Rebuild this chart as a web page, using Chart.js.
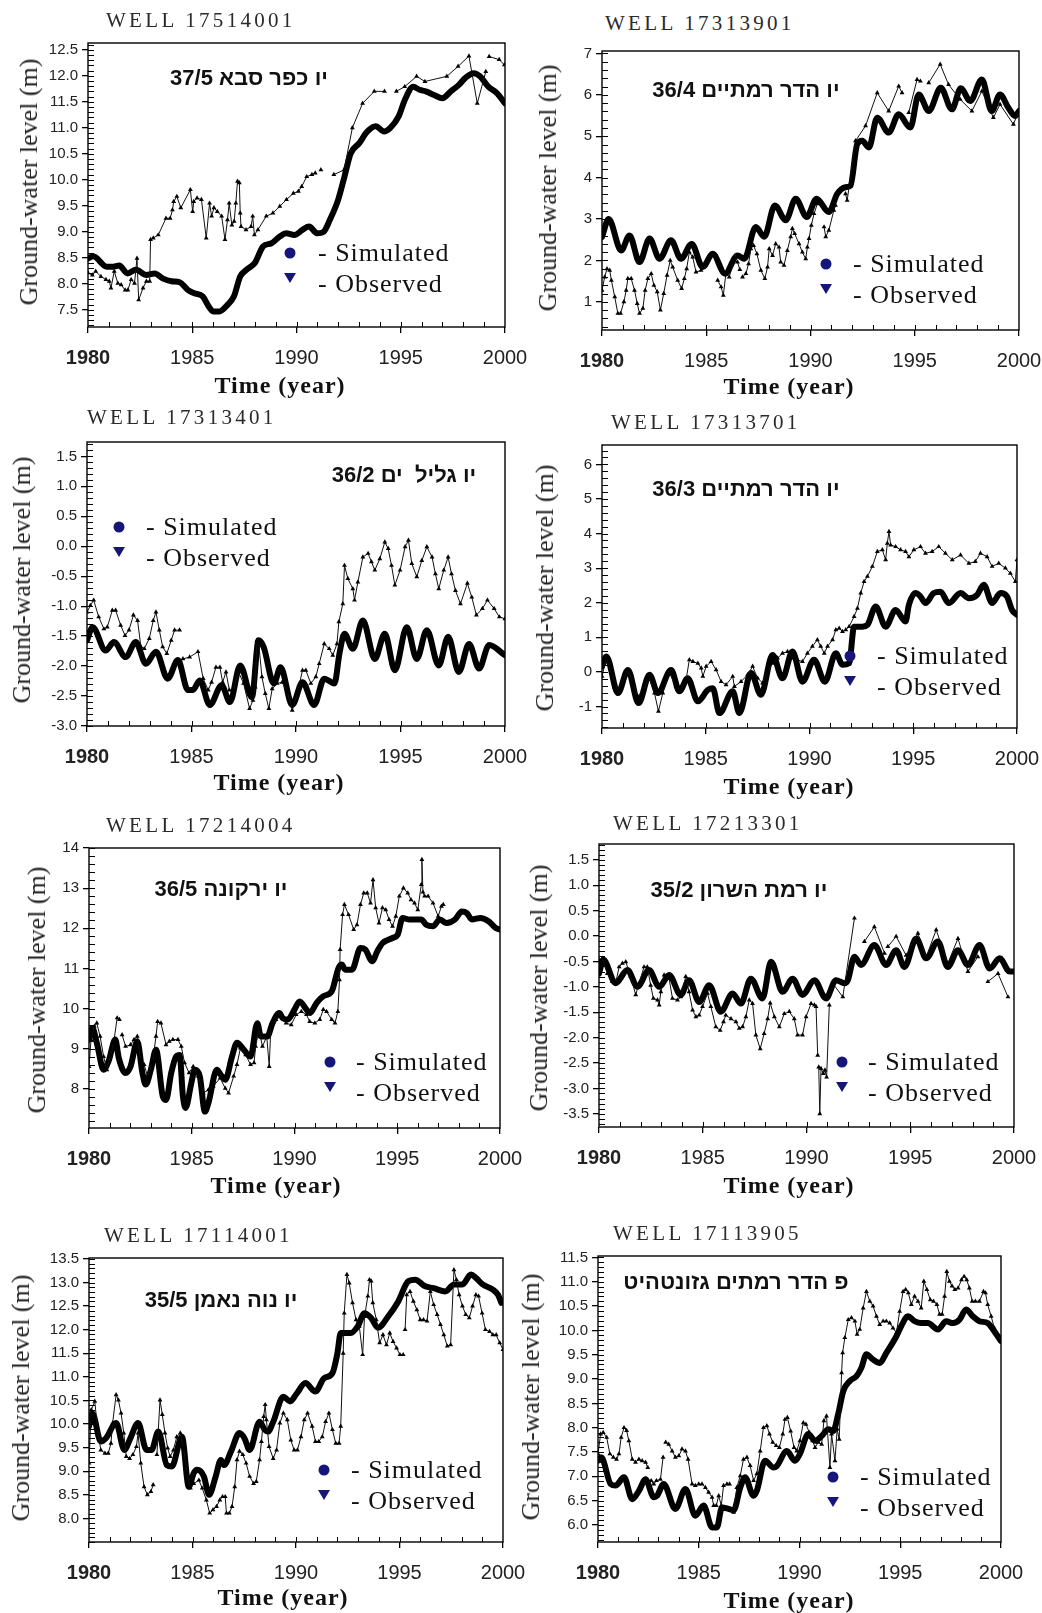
<!DOCTYPE html>
<html>
<head>
<meta charset="utf-8">
<title>Ground-water level: simulated and observed</title>
<script src="https://cdn.jsdelivr.net/npm/chart.js@4.4.1/dist/chart.umd.min.js"></script>
<style>
  body { margin: 0; background: #fff; }
  #page { position: relative; width: 1042px; height: 1613px; overflow: hidden; background: #fff; }
  canvas { position: absolute; }
  .well { position: absolute; font: 21px "Liberation Serif", serif; letter-spacing: 3.3px; color: #2a2a2a; line-height: 1; transform: translateY(-50%); white-space: nowrap; }
  .ytitle { position: absolute; font: 26px "Liberation Serif", serif; color: #222; line-height: 1; white-space: nowrap; transform: translate(-50%, -50%) rotate(-90deg); }
  .xtitle { position: absolute; font: bold 24px "Liberation Serif", serif; letter-spacing: 1px; color: #111; line-height: 1; white-space: nowrap; transform: translate(-50%, -50%); }
  .site { position: absolute; font: bold 22px "Liberation Sans", "DejaVu Sans", sans-serif; color: #111; line-height: 1; white-space: pre; transform: translate(-50%, -50%); }
  .leg { position: absolute; font: 26px "Liberation Serif", serif; letter-spacing: 1px; color: #111; line-height: 1; white-space: nowrap; transform: translateY(-50%); }
  .dot { position: absolute; width: 11px; height: 11px; border-radius: 50%; background: #16167a; transform: translate(-50%, -50%); }
  .tri { position: absolute; width: 12px; height: 10px; background: #16167a; clip-path: polygon(0 0, 100% 0, 50% 100%); transform: translate(-50%, -50%); }
</style>
</head>
<body>
<div id="page"></div>
<script>
// shared time axis
const yearTicks = [1980, 1985, 1990, 1995, 2000];

// ---- WELL 17514001 ----
const well1 = "WELL 17514001";
const site1 = "יו כפר סבא 37/5";
const ticks1 = [7.5, 8.0, 8.5, 9.0, 9.5, 10.0, 10.5, 11.0, 11.5, 12.0, 12.5];
const sim1 = [
  [1980.0,8.49],[1980.25,8.53],[1980.9,8.33],[1981.2,8.33],[1981.5,8.35],[1981.9,8.2],[1982.3,8.27],[1982.8,8.17],
  [1983.2,8.2],[1983.6,8.1],[1984.0,8.05],[1984.4,8.03],[1984.8,7.88],[1985.1,7.82],[1985.5,7.76],[1985.8,7.56],
  [1986.0,7.47],[1986.3,7.47],[1986.7,7.6],[1987.0,7.76],[1987.3,8.14],[1987.6,8.27],[1988.0,8.4],[1988.4,8.72],
  [1988.8,8.78],[1989.2,8.91],[1989.5,8.97],[1989.9,8.94],[1990.3,9.04],[1990.6,9.1],[1991.0,8.97],[1991.3,9.0],
  [1991.6,9.23],[1992.0,9.62],[1992.3,10.06],[1992.6,10.51],[1993.0,10.7],[1993.4,10.93],[1993.8,11.03],[1994.2,10.93],
  [1994.5,11.0],[1994.9,11.22],[1995.2,11.54],[1995.6,11.79],[1995.9,11.73],[1996.2,11.7],[1996.6,11.63],[1997.0,11.57],
  [1997.4,11.7],[1997.8,11.83],[1998.1,11.96],[1998.5,12.05],[1998.8,11.99],[1999.2,11.79],[1999.6,11.67],[2000.0,11.47]
];
const obs1 = [
  [1980.0,8.21],[1980.21,8.17],[1980.37,8.24],[1980.62,8.14],[1980.86,8.08],[1981.02,8.05],[1981.1,7.92],[1981.26,8.24],
  [1981.43,8.01],[1981.59,7.98],[1981.78,7.88],[1981.91,7.88],[1982.07,8.08],[1982.23,8.01],[1982.35,8.49],[1982.43,7.69],
  [1982.64,7.92],[1982.8,8.05],[1982.96,8.05],[1983.0,8.85],[1983.13,8.88],[1983.37,8.94],[1983.74,9.26],[1983.94,9.26],
  [1984.05,9.42],[1984.11,9.58],[1984.26,9.68],[1984.45,9.46],[1984.91,9.81],[1985.02,9.39],[1985.07,9.58],[1985.23,9.65],
  [1985.44,9.62],[1985.67,8.88],[1985.83,9.55],[1985.93,9.3],[1986.04,9.46],[1986.2,9.39],[1986.41,9.3],[1986.57,8.85],
  [1986.69,9.23],[1986.77,9.55],[1986.9,9.13],[1987.01,9.2],[1987.09,9.55],[1987.17,9.97],[1987.26,9.94],[1987.3,9.36],
  [1987.34,9.1],[1987.58,9.04],[1987.82,9.1],[1987.9,9.3],[1987.98,8.94],[1988.15,9.04],[1988.55,9.3],[1988.87,9.36],
  [1989.2,9.49],[1989.52,9.62],[1989.85,9.74],[1990.09,9.78],[1990.25,9.87],[1990.49,10.06],[1990.74,10.1],[1990.9,10.13],
  [1991.0,null],[1991.17,10.19],[1991.4,null],[1991.79,10.1],[1992.28,10.19],[1992.68,11.0],[1993.17,11.47],[1993.73,11.7],
  [1994.22,11.7],[1994.5,null],[1994.79,11.7],[1995.19,11.79],[1995.76,11.99],[1996.16,11.89],[1997.21,11.99],[1997.75,12.18],
  [1998.27,12.38],[1998.67,11.47],[1999.08,12.08],[1999.15,null],[1999.24,12.37],[1999.72,12.31],[1999.97,12.21]
];

// ---- WELL 17313901 ----
const well2 = "WELL 17313901";
const site2 = "יו הדר רמתיים 36/4";
const ticks2 = [1, 2, 3, 4, 5, 6, 7];
const sim2 = [
  [1980.0,2.57],[1980.32,3.0],[1980.92,2.24],[1981.32,2.6],[1981.8,1.96],[1982.28,2.53],[1982.76,2.04],[1983.31,2.49],
  [1983.79,2.04],[1984.3,2.4],[1984.83,1.84],[1985.31,2.16],[1985.9,1.68],[1986.5,2.12],[1986.82,2.04],[1987.38,2.81],
  [1987.78,2.57],[1988.29,3.33],[1988.81,2.97],[1989.29,3.49],[1989.82,3.05],[1990.29,3.49],[1990.88,3.17],[1991.28,3.61],
  [1991.68,3.77],[1991.92,3.81],[1992.24,4.81],[1992.48,4.89],[1992.8,4.73],[1993.2,5.45],[1993.75,5.09],[1994.23,5.53],
  [1994.79,5.21],[1995.19,6.01],[1995.67,5.61],[1996.25,6.17],[1996.78,5.65],[1997.21,6.16],[1997.66,5.85],[1998.22,6.37],
  [1998.69,5.61],[1999.09,6.01],[1999.49,5.69],[1999.81,5.49],[2000.0,5.61]
];
const obs2 = [
  [1980.0,1.28],[1980.13,1.6],[1980.24,1.8],[1980.37,1.76],[1980.45,1.52],[1980.61,1.12],[1980.76,0.72],[1980.89,0.72],
  [1981.05,1.0],[1981.16,1.28],[1981.24,1.56],[1981.4,1.56],[1981.56,1.28],[1981.69,0.96],[1981.8,0.72],[1981.96,0.84],
  [1982.07,1.28],[1982.2,1.56],[1982.36,1.68],[1982.49,1.4],[1982.65,1.24],[1982.8,0.8],[1982.96,1.2],[1983.12,1.64],
  [1983.27,2.0],[1983.39,1.84],[1983.63,1.52],[1983.82,1.32],[1983.95,1.56],[1984.06,1.8],[1984.19,2.2],[1984.35,2.08],
  [1984.51,1.72],[1984.75,1.76],[1985.1,null],[1985.55,1.52],[1985.71,1.36],[1985.82,1.16],[1985.94,1.68],[1986.1,1.6],
  [1986.34,2.0],[1986.5,1.96],[1986.61,1.78],[1986.68,null],[1986.74,1.6],[1986.9,1.68],[1987.03,1.92],[1987.14,2.28],
  [1987.27,2.36],[1987.43,2.16],[1987.62,1.76],[1987.81,1.56],[1987.94,1.84],[1988.02,2.28],[1988.18,2.12],[1988.33,2.4],
  [1988.49,2.32],[1988.57,1.96],[1988.73,1.88],[1988.89,2.24],[1989.05,2.57],[1989.13,2.77],[1989.24,2.65],[1989.45,2.4],
  [1989.61,2.2],[1989.77,2.04],[1989.85,2.32],[1989.93,2.53],[1990.04,2.85],[1990.17,3.13],[1990.33,3.37],[1990.5,null],
  [1990.65,2.81],[1990.73,2.57],[1990.88,2.73],[1991.12,3.21],[1991.2,3.33],[1991.45,null],[1991.68,3.61],[1991.76,3.45],
  [1992.16,4.89],[1992.64,5.25],[1993.2,6.05],[1993.75,5.61],[1994.23,6.21],[1994.39,6.05],[1994.55,null],[1994.71,5.57],
  [1995.11,6.37],[1995.27,6.33],[1995.45,null],[1995.67,6.29],[1996.22,6.74],[1996.62,6.25],[1997.18,5.89],[1997.74,5.61],
  [1998.22,6.09],[1998.77,5.45],[1999.09,5.77],[1999.73,5.29],[2000.0,5.61]
];

// ---- WELL 17313401 ----
const well3 = "WELL 17313401";
const site3 = "יו גליל  ים 36/2";
const ticks3 = [-3.0, -2.5, -2.0, -1.5, -1.0, -0.5, 0.0, 0.5, 1.0, 1.5];
const sim3 = [
  [1980.0,-1.57],[1980.27,-1.35],[1980.89,-1.74],[1981.29,-1.6],[1981.85,-1.85],[1982.33,-1.6],[1982.82,-1.96],[1983.3,-1.76],
  [1983.86,-2.21],[1984.35,-1.9],[1984.83,-2.4],[1985.07,-2.4],[1985.39,-2.24],[1985.88,-2.65],[1986.44,-2.32],[1986.84,-2.6],
  [1987.33,-1.99],[1987.89,-2.52],[1988.21,-1.57],[1988.45,-1.68],[1988.94,-2.29],[1989.26,-2.02],[1989.82,-2.65],[1990.31,-2.27],
  [1990.87,-2.65],[1991.35,-2.21],[1991.84,-2.29],[1992.08,-1.79],[1992.32,-1.46],[1992.72,-1.71],[1993.2,-1.24],[1993.77,-1.88],
  [1994.25,-1.46],[1994.73,-2.07],[1995.3,-1.35],[1995.78,-1.88],[1996.26,-1.4],[1996.83,-1.99],[1997.28,-1.51],[1997.79,-2.1],
  [1998.28,-1.63],[1998.76,-2.04],[1999.24,-1.65],[2000.0,-1.82]
];
const obs3 = [
  [1980.0,-1.1],[1980.16,-0.99],[1980.32,-0.9],[1980.56,-1.18],[1980.81,-1.38],[1980.97,-1.35],[1981.21,-1.07],[1981.37,-1.07],
  [1981.61,-1.32],[1981.82,-1.49],[1982.01,-1.4],[1982.22,-1.15],[1982.42,-1.24],[1982.58,-1.68],[1982.74,-1.71],[1982.98,-1.54],
  [1983.17,-1.24],[1983.3,-1.1],[1983.46,-1.4],[1983.62,-1.68],[1983.82,-1.79],[1984.03,-1.57],[1984.19,-1.4],[1984.43,-1.4],
  [1984.5,null],[1984.59,-1.88],[1984.91,-1.85],[1985.31,-1.76],[1985.56,-2.21],[1985.8,-2.4],[1985.96,-2.27],[1986.17,-2.02],
  [1986.36,-2.02],[1986.49,-2.27],[1986.65,-2.1],[1986.81,-2.4],[1987.0,-2.4],[1987.25,-2.1],[1987.49,-2.29],[1987.78,-2.71],
  [1987.94,-2.57],[1988.05,-2.35],[1988.13,-1.57],[1988.21,-1.6],[1988.37,-2.18],[1988.53,-2.46],[1988.7,-2.71],[1988.86,-2.38],
  [1989.1,-2.29],[1989.34,-2.27],[1989.58,-2.43],[1989.82,-2.74],[1990.06,-2.46],[1990.31,-2.07],[1990.47,-2.07],[1990.71,-2.29],
  [1990.95,-2.18],[1991.11,-1.96],[1991.35,-1.63],[1991.59,-1.71],[1991.76,-1.82],[1991.96,-1.63],[1992.05,-1.26],[1992.24,-0.96],
  [1992.32,-0.32],[1992.48,-0.54],[1992.72,-0.71],[1992.8,-0.9],[1992.96,-0.6],[1993.2,-0.18],[1993.45,-0.12],[1993.61,-0.26],
  [1993.77,-0.4],[1994.01,-0.21],[1994.25,0.07],[1994.41,-0.04],[1994.57,-0.32],[1994.73,-0.65],[1994.98,-0.4],[1995.22,-0.01],
  [1995.38,0.1],[1995.54,-0.29],[1995.78,-0.51],[1996.02,-0.24],[1996.26,-0.01],[1996.51,-0.18],[1996.67,-0.46],[1996.83,-0.71],
  [1997.07,-0.4],[1997.28,-0.18],[1997.44,-0.46],[1997.63,-0.74],[1997.87,-0.96],[1998.2,-0.62],[1998.41,-0.85],[1998.63,-1.15],
  [1998.92,-1.04],[1999.16,-0.9],[1999.48,-1.04],[1999.73,-1.18],[2000.0,-1.21]
];

// ---- WELL 17313701 ----
const well4 = "WELL 17313701";
const site4 = "יו הדר רמתיים 36/3";
const ticks4 = [-1, 0, 1, 2, 3, 4, 5, 6];
const sim4 = [
  [1980.0,0.16],[1980.21,0.45],[1980.77,-0.61],[1981.25,0.06],[1981.76,-0.9],[1982.29,-0.08],[1982.69,-0.61],[1983.33,0.06],
  [1983.73,-0.56],[1984.13,-0.18],[1984.62,-0.85],[1985.1,-0.52],[1985.34,-0.47],[1985.66,-1.19],[1986.3,-0.56],[1986.62,-1.19],
  [1987.18,-0.03],[1987.66,-0.66],[1988.22,0.49],[1988.7,-0.18],[1989.18,0.59],[1989.66,-0.28],[1990.22,0.35],[1990.74,-0.28],
  [1991.27,0.54],[1991.59,0.21],[1991.91,0.25],[1992.15,1.31],[1992.55,1.31],[1992.79,1.36],[1993.19,1.89],[1993.67,1.31],
  [1994.15,1.79],[1994.63,1.46],[1994.79,1.94],[1995.11,2.28],[1995.35,2.18],[1995.59,1.99],[1995.99,2.28],[1996.31,2.32],
  [1996.71,1.99],[1997.28,2.28],[1997.68,2.13],[1998.08,2.23],[1998.4,2.52],[1998.8,1.99],[1999.2,2.28],[1999.52,2.18],
  [1999.76,1.79],[2000.0,1.65]
];
const obs4 = [
  [1980.0,-0.13],[1980.21,0.4],[1980.45,-0.03],[1980.77,-0.52],[1981.01,-0.23],[1981.25,0.06],[1981.49,-0.32],[1981.73,-0.71],
  [1981.97,-0.52],[1982.29,-0.18],[1982.53,-0.61],[1982.72,-1.14],[1982.93,-0.61],[1983.25,-0.03],[1983.57,-0.42],[1983.81,-0.52],
  [1984.05,-0.23],[1984.21,0.35],[1984.38,0.3],[1984.62,0.25],[1984.78,0.11],[1984.86,-0.13],[1985.02,0.16],[1985.26,0.3],
  [1985.5,0.06],[1985.74,-0.28],[1985.98,-0.37],[1986.3,-0.13],[1986.38,-0.42],[1986.7,-0.28],[1987.02,-0.08],[1987.26,0.16],
  [1987.5,-0.18],[1987.74,-0.32],[1987.98,0.01],[1988.22,0.25],[1988.46,0.4],[1988.7,0.54],[1988.94,0.59],[1989.18,0.4],
  [1989.42,0.35],[1989.66,0.3],[1989.9,0.54],[1990.14,0.74],[1990.38,0.93],[1990.54,0.74],[1990.71,0.54],[1990.87,0.74],
  [1991.11,0.93],[1991.27,1.22],[1991.43,1.26],[1991.59,1.17],[1991.75,1.22],[1991.91,1.31],[1992.15,1.6],[1992.31,1.84],
  [1992.47,2.28],[1992.63,2.61],[1992.79,2.76],[1993.03,3.05],[1993.27,3.48],[1993.51,3.53],[1993.67,3.24],[1993.75,3.72],
  [1993.83,4.06],[1993.91,3.67],[1994.15,3.62],[1994.39,3.53],[1994.63,3.48],[1994.79,3.33],[1995.03,3.53],[1995.35,3.62],
  [1995.59,3.43],[1995.91,3.48],[1996.23,3.62],[1996.55,3.43],[1996.88,3.24],[1997.28,3.38],[1997.68,3.14],[1997.99,3.19],
  [1998.24,3.43],[1998.56,3.33],[1998.8,3.05],[1999.12,3.14],[1999.44,3.0],[1999.68,2.85],[1999.92,2.61],[2000.0,3.24]
];

// ---- WELL 17214004 ----
const well5 = "WELL 17214004";
const site5 = "יו ירקונה 36/5";
const ticks5 = [8, 9, 10, 11, 12, 13, 14];
const sim5 = [
  [1980.0,9.23],[1980.16,9.52],[1980.38,9.15],[1980.71,8.48],[1980.95,8.69],[1981.28,9.23],[1981.45,8.77],[1981.78,8.4],
  [1982.02,8.56],[1982.35,9.19],[1982.6,8.4],[1982.76,8.11],[1983.01,8.48],[1983.26,8.98],[1983.59,7.82],[1983.75,7.73],
  [1984.0,8.4],[1984.24,8.81],[1984.41,8.85],[1984.57,7.82],[1984.7,7.53],[1984.98,8.15],[1985.15,8.48],[1985.39,8.32],
  [1985.64,7.44],[1985.81,7.65],[1986.22,8.48],[1986.46,8.32],[1986.63,8.23],[1986.96,8.81],[1987.2,9.15],[1987.53,8.98],
  [1987.86,8.81],[1988.19,9.64],[1988.36,9.31],[1988.68,9.31],[1988.93,9.64],[1989.26,9.89],[1989.42,9.77],[1989.67,9.73],
  [1990.0,9.98],[1990.25,10.18],[1990.58,9.98],[1990.74,9.89],[1991.07,10.14],[1991.4,10.31],[1991.81,10.43],[1992.14,11.01],
  [1992.3,11.1],[1992.47,10.97],[1992.8,10.97],[1993.21,11.51],[1993.45,11.47],[1993.78,11.18],[1994.03,11.43],[1994.28,11.63],
  [1994.77,11.76],[1995.02,11.84],[1995.26,12.26],[1995.59,12.22],[1996.17,12.22],[1996.41,12.09],[1996.74,12.05],[1997.07,12.22],
  [1997.4,12.13],[1997.81,12.22],[1998.14,12.42],[1998.39,12.38],[1998.63,12.22],[1999.05,12.26],[1999.46,12.17],[1999.79,12.01],
  [2000.0,11.97]
];
const obs5 = [
  [1980.0,8.56],[1980.1,9.23],[1980.26,9.56],[1980.38,9.64],[1980.54,9.31],[1980.71,8.81],[1980.87,8.48],[1981.04,8.81],
  [1981.2,9.15],[1981.37,9.77],[1981.48,9.73],[1981.55,null],[1981.61,9.35],[1981.78,9.06],[1982.02,9.1],[1982.19,9.23],
  [1982.35,9.31],[1982.52,8.69],[1982.68,8.61],[1982.85,8.32],[1983.09,8.65],[1983.26,9.31],[1983.34,9.68],[1983.5,9.64],
  [1983.75,9.1],[1983.91,9.19],[1984.08,9.23],[1984.33,9.23],[1984.49,9.06],[1984.65,8.65],[1984.87,8.4],[1985.07,8.56],
  [1985.31,8.32],[1985.56,7.9],[1985.81,7.98],[1986.05,8.07],[1986.38,8.27],[1986.63,8.02],[1986.79,7.9],[1987.04,8.32],
  [1987.2,8.61],[1987.37,9.02],[1987.62,8.85],[1987.86,8.61],[1988.03,8.65],[1988.11,9.06],[1988.27,9.48],[1988.44,9.06],
  [1988.65,9.31],[1988.77,8.56],[1988.85,9.56],[1989.1,9.73],[1989.34,9.81],[1989.59,9.64],[1989.84,9.6],[1990.08,9.85],
  [1990.33,9.93],[1990.58,9.85],[1990.74,9.68],[1990.99,9.64],[1991.23,9.73],[1991.4,9.98],[1991.56,9.93],[1991.81,9.73],
  [1991.97,9.64],[1992.11,9.93],[1992.19,10.72],[1992.22,11.47],[1992.34,12.34],[1992.43,12.59],[1992.63,12.34],[1992.88,11.97],
  [1993.04,12.09],[1993.21,12.59],[1993.37,12.88],[1993.54,12.88],[1993.7,12.63],[1993.82,13.21],[1993.95,12.51],[1994.11,12.13],
  [1994.28,12.51],[1994.44,12.46],[1994.6,12.22],[1994.77,12.05],[1994.93,12.3],[1995.1,12.8],[1995.3,13.0],[1995.51,12.88],
  [1995.67,12.71],[1995.84,12.63],[1996.0,12.46],[1996.17,13.09],[1996.2,13.71],[1996.25,12.9],[1996.33,12.8],[1996.5,12.8],
  [1996.74,12.63],[1996.99,12.3],[1997.15,12.55],[1997.24,12.59]
];

// ---- WELL 17213301 ----
const well6 = "WELL 17213301";
const site6 = "יו רמת השרון 35/2";
const ticks6 = [-3.5, -3.0, -2.5, -2.0, -1.5, -1.0, -0.5, 0.0, 0.5, 1.0, 1.5];
const sim6 = [
  [1980.0,-0.74],[1980.21,-0.47],[1980.8,-0.93],[1981.37,-0.67],[1981.85,-1.0],[1982.41,-0.67],[1982.9,-1.0],[1983.38,-0.77],
  [1983.94,-1.16],[1984.34,-0.87],[1984.83,-1.3],[1985.31,-0.97],[1985.87,-1.49],[1986.44,-1.13],[1986.84,-1.33],[1987.32,-0.84],
  [1987.88,-1.23],[1988.29,-0.51],[1988.85,-1.1],[1989.33,-0.84],[1989.81,-1.16],[1990.38,-0.87],[1990.94,-1.23],[1991.42,-0.87],
  [1991.83,-0.93],[1991.99,-0.87],[1992.31,-0.41],[1992.63,-0.57],[1993.27,-0.18],[1993.84,-0.57],[1994.32,-0.28],[1994.72,-0.61],
  [1995.29,-0.05],[1995.77,-0.44],[1996.33,-0.11],[1996.81,-0.61],[1997.3,-0.28],[1997.78,-0.57],[1998.34,-0.18],[1998.83,-0.64],
  [1999.31,-0.44],[1999.79,-0.7],[2000.0,-0.7]
];
const obs6 = [
  [1980.0,-0.47],[1980.16,-0.44],[1980.4,-0.74],[1980.64,-0.9],[1980.8,-0.93],[1980.97,-0.61],[1981.13,-0.54],[1981.29,-0.51],
  [1981.53,-0.8],[1981.77,-1.16],[1981.93,-0.93],[1982.17,-0.61],[1982.33,-0.61],[1982.49,-0.97],[1982.62,-1.23],[1982.82,-1.26],
  [1982.9,-1.36],[1982.98,-1.1],[1983.14,-0.77],[1983.38,-0.84],[1983.54,-1.23],[1983.78,-1.26],[1983.94,-1.2],[1984.18,-0.8],
  [1984.34,-1.1],[1984.51,-1.46],[1984.67,-1.59],[1984.83,-1.56],[1984.99,-1.39],[1985.23,-1.13],[1985.39,-1.39],[1985.63,-1.79],
  [1985.84,-1.86],[1986.0,-1.69],[1986.11,-1.56],[1986.36,-1.63],[1986.6,-1.69],[1986.76,-1.82],[1986.92,-1.79],[1987.08,-1.59],
  [1987.24,-1.26],[1987.4,-1.33],[1987.56,-1.95],[1987.77,-2.22],[1987.96,-1.92],[1988.13,-1.63],[1988.25,-1.32],[1988.45,-1.59],
  [1988.69,-1.79],[1988.93,-1.53],[1989.17,-1.49],[1989.41,-1.63],[1989.57,-1.95],[1989.81,-1.95],[1989.98,-1.59],[1990.22,-1.33],
  [1990.38,-1.36],[1990.46,-1.39],[1990.54,-2.35],[1990.57,null],[1990.59,-2.58],[1990.64,-3.5],[1990.7,-2.61],[1990.81,-2.71],
  [1990.89,-2.64],[1990.97,-2.78],[1991.1,-1.36],[1991.18,null],[1991.26,-0.93],[1991.75,-1.2],[1992.31,0.35],[1992.55,null],
  [1992.79,-0.11],[1993.27,0.18],[1993.76,-0.34],[1993.84,null],[1993.92,-0.21],[1994.32,-0.01],[1994.8,-0.38],[1995.37,0.05],
  [1995.77,-0.41],[1996.25,0.12],[1996.81,-0.54],[1997.3,-0.05],[1997.78,-0.7],[1998.26,-0.41],[1998.5,null],[1998.74,-0.9],
  [1999.23,-0.74],[1999.71,-1.2]
];

// ---- WELL 17114001 ----
const well7 = "WELL 17114001";
const site7 = "יו נוה נאמן 35/5";
const ticks7 = [8.0, 8.5, 9.0, 9.5, 10.0, 10.5, 11.0, 11.5, 12.0, 12.5, 13.0, 13.5];
const sim7 = [
  [1980.0,9.95],[1980.16,10.23],[1980.57,9.63],[1980.82,9.7],[1981.31,10.02],[1981.71,9.45],[1981.96,9.66],[1982.37,10.02],
  [1982.78,9.45],[1983.02,9.45],[1983.35,9.84],[1983.76,9.13],[1984.0,9.1],[1984.49,9.73],[1984.82,8.67],[1985.06,8.96],
  [1985.22,9.03],[1985.55,8.89],[1985.8,8.5],[1986.12,8.89],[1986.37,9.24],[1986.53,9.13],[1986.86,9.42],[1987.27,9.81],
  [1987.51,9.7],[1987.76,9.45],[1988.24,10.05],[1988.49,9.88],[1988.65,9.84],[1988.9,10.05],[1989.39,10.58],[1989.71,10.48],
  [1990.04,10.65],[1990.45,10.87],[1990.94,10.69],[1991.35,10.97],[1991.76,11.08],[1992.0,11.5],[1992.16,11.93],[1992.65,11.93],
  [1992.98,12.07],[1993.31,12.35],[1993.63,12.25],[1993.96,12.04],[1994.45,12.28],[1994.94,12.6],[1995.43,13.03],[1995.76,13.06],
  [1996.24,12.92],[1996.65,12.88],[1997.22,12.81],[1997.63,12.96],[1998.04,12.96],[1998.45,13.17],[1998.69,13.1],[1999.02,12.96],
  [1999.51,12.85],[1999.76,12.74],[1999.92,12.57]
];
const obs7 = [
  [1980.0,9.17],[1980.11,10.3],[1980.28,10.48],[1980.41,9.91],[1980.57,9.45],[1980.77,9.38],[1980.93,9.38],[1981.06,9.59],
  [1981.14,10.02],[1981.31,10.62],[1981.42,10.51],[1981.55,10.23],[1981.68,9.81],[1981.8,9.31],[1981.96,9.27],[1982.12,9.35],
  [1982.29,9.52],[1982.37,9.81],[1982.5,9.17],[1982.66,8.67],[1982.82,8.5],[1982.99,8.57],[1983.1,8.71],[1983.19,null],
  [1983.28,9.35],[1983.43,10.51],[1983.54,10.2],[1983.67,9.81],[1983.8,9.49],[1983.92,9.31],[1984.08,9.45],[1984.24,9.73],
  [1984.41,9.81],[1984.57,9.49],[1984.73,8.96],[1984.9,8.64],[1985.06,8.74],[1985.31,8.81],[1985.47,8.64],[1985.67,8.39],
  [1985.83,8.11],[1985.99,8.18],[1986.16,8.25],[1986.32,8.39],[1986.45,8.46],[1986.58,8.46],[1986.64,8.11],[1986.78,8.11],
  [1986.91,8.25],[1987.04,8.67],[1987.15,9.24],[1987.27,9.42],[1987.43,9.35],[1987.59,9.17],[1987.76,8.89],[1987.95,8.74],
  [1988.08,8.78],[1988.24,9.24],[1988.33,9.63],[1988.44,10.16],[1988.51,10.41],[1988.57,10.09],[1988.7,9.52],[1988.9,9.27],
  [1989.06,9.45],[1989.22,10.02],[1989.39,10.23],[1989.58,10.09],[1989.75,9.66],[1989.91,9.45],[1990.07,9.45],[1990.24,9.73],
  [1990.4,10.09],[1990.56,10.23],[1990.78,9.95],[1990.94,9.63],[1991.1,9.63],[1991.27,9.73],[1991.43,10.05],[1991.59,10.23],
  [1991.76,9.88],[1991.92,9.59],[1992.08,9.59],[1992.16,9.95],[1992.28,11.5],[1992.33,12.35],[1992.46,13.17],[1992.57,12.99],
  [1992.73,12.57],[1992.9,12.21],[1993.06,12.07],[1993.22,11.47],[1993.31,12.28],[1993.47,12.71],[1993.55,13.06],[1993.63,13.03],
  [1993.71,12.57],[1993.88,12.21],[1994.04,11.72],[1994.2,11.89],[1994.37,11.68],[1994.53,11.93],[1994.69,11.75],[1994.86,11.61],
  [1995.02,11.47],[1995.18,11.47],[1995.22,null],[1995.27,12.0],[1995.35,12.74],[1995.51,12.81],[1995.67,12.6],[1995.84,12.42],
  [1996.0,12.21],[1996.16,12.21],[1996.33,12.18],[1996.49,12.81],[1996.65,12.53],[1996.82,12.32],[1996.98,12.11],[1997.14,11.89],
  [1997.31,11.65],[1997.47,11.68],[1997.63,13.27],[1997.75,13.06],[1997.88,12.74],[1998.04,12.5],[1998.2,12.32],[1998.37,12.25],
  [1998.53,12.5],[1998.69,12.74],[1998.82,12.71],[1998.99,12.35],[1999.15,12.0],[1999.35,11.96],[1999.51,11.89],[1999.67,11.89],
  [1999.84,11.72],[2000.0,11.58]
];

// ---- WELL 17113905 ----
const well8 = "WELL 17113905";
const site8 = "פ הדר רמתים גזונטהיט";
const ticks8 = [6.0, 6.5, 7.0, 7.5, 8.0, 8.5, 9.0, 9.5, 10.0, 10.5, 11.0, 11.5];
const sim8 = [
  [1980.0,7.32],[1980.16,7.39],[1980.63,6.84],[1980.87,6.81],[1981.29,6.98],[1981.7,6.53],[1982.03,6.7],[1982.36,6.94],
  [1982.77,6.57],[1982.93,6.6],[1983.26,6.84],[1983.84,6.33],[1984.34,6.74],[1984.83,6.19],[1985.24,6.4],[1985.66,5.95],
  [1985.9,5.95],[1986.15,6.36],[1986.48,6.33],[1986.73,6.3],[1987.06,6.77],[1987.3,6.98],[1987.72,6.6],[1987.88,6.7],
  [1988.29,7.32],[1988.71,7.18],[1988.87,7.21],[1989.37,7.52],[1989.78,7.32],[1990.02,7.46],[1990.44,7.87],[1990.77,7.73],
  [1991.1,7.83],[1991.43,7.97],[1991.67,7.93],[1991.92,8.28],[1992.17,8.75],[1992.5,8.96],[1992.83,9.06],[1993.07,9.23],
  [1993.32,9.51],[1993.65,9.4],[1993.98,9.33],[1994.31,9.54],[1994.81,9.88],[1995.05,10.09],[1995.38,10.29],[1995.71,10.19],
  [1996.04,10.15],[1996.37,10.15],[1996.87,10.02],[1997.28,10.19],[1997.61,10.15],[1997.94,10.22],[1998.27,10.43],[1998.6,10.29],
  [1998.93,10.19],[1999.34,10.15],[1999.67,9.98],[2000.0,9.78]
];
const obs8 = [
  [1980.0,7.46],[1980.13,7.87],[1980.26,7.9],[1980.43,7.8],[1980.59,7.46],[1980.76,7.39],[1980.92,7.35],[1981.04,7.46],
  [1981.15,7.8],[1981.29,8.0],[1981.42,7.94],[1981.53,7.73],[1981.7,7.35],[1981.86,7.29],[1982.03,7.35],[1982.19,7.32],
  [1982.36,7.29],[1982.47,7.18],[1982.55,null],[1982.64,6.91],[1982.77,6.84],[1982.9,6.91],[1983.1,6.94],[1983.23,7.39],
  [1983.3,null],[1983.36,7.7],[1983.51,7.66],[1983.68,7.52],[1983.84,7.39],[1984.01,7.42],[1984.17,7.56],[1984.34,7.52],
  [1984.47,7.35],[1984.67,6.84],[1984.83,6.81],[1985.0,6.84],[1985.16,6.84],[1985.33,6.77],[1985.49,6.67],[1985.66,6.57],
  [1985.74,6.4],[1985.87,6.4],[1985.99,6.6],[1986.12,6.4],[1986.23,6.81],[1986.4,6.84],[1986.53,6.84],[1986.63,null],
  [1986.73,6.26],[1986.89,6.77],[1987.06,7.01],[1987.22,7.35],[1987.39,7.39],[1987.55,7.22],[1987.72,6.91],[1987.88,7.05],
  [1988.05,7.52],[1988.21,8.0],[1988.38,8.04],[1988.51,7.87],[1988.67,7.7],[1988.84,7.63],[1989.0,7.59],[1989.17,7.87],
  [1989.28,8.17],[1989.4,8.21],[1989.56,7.93],[1989.73,7.59],[1989.86,7.52],[1990.02,7.73],[1990.19,8.1],[1990.32,8.07],
  [1990.49,7.9],[1990.65,7.73],[1990.77,7.59],[1990.93,7.7],[1991.1,7.66],[1991.21,8.14],[1991.34,8.24],[1991.51,7.18],
  [1991.59,7.87],[1991.76,7.32],[1991.87,7.97],[1991.97,7.76],[1992.09,9.13],[1992.14,9.54],[1992.25,9.85],[1992.42,10.22],
  [1992.58,10.26],[1992.75,10.19],[1992.86,9.92],[1992.99,10.02],[1993.16,10.46],[1993.32,10.8],[1993.49,10.6],[1993.65,10.5],
  [1993.82,10.29],[1993.98,10.12],[1994.15,10.19],[1994.31,10.19],[1994.48,10.15],[1994.64,10.05],[1994.81,9.95],[1994.97,10.39],
  [1995.14,10.8],[1995.27,10.84],[1995.4,10.77],[1995.55,10.53],[1995.71,10.7],[1995.88,10.6],[1996.04,10.46],[1996.17,11.01],
  [1996.32,10.84],[1996.49,10.63],[1996.65,10.6],[1996.82,10.53],[1996.95,10.33],[1997.08,10.33],[1997.2,10.7],[1997.31,11.21],
  [1997.44,11.01],[1997.57,10.91],[1997.71,10.84],[1997.87,10.87],[1998.04,11.04],[1998.17,11.11],[1998.3,11.04],[1998.43,10.87],
  [1998.57,10.6],[1998.73,10.6],[1998.93,10.6],[1999.13,10.8],[1999.23,10.77],[1999.34,10.53],[1999.51,10.29],[1999.67,10.05],
  [1999.84,9.88],[2000.0,9.78]
];

// page positions of each panel: plot box [left, top, right, bottom], axis range, label anchors
const panels = [
  {well: well1, site: site1, ticks: ticks1, sim: sim1, obs: obs1, box: [88, 43, 505, 327], range: [7.17, 12.63], dec: 1, minor: 0.1,
   wellAt: [106, 20], siteAt: [249, 78], yTitleAt: [29, 182], xTitleAt: [280, 385], legAt: [290, 253, 318]},
  {well: well2, site: site2, ticks: ticks2, sim: sim2, obs: obs2, box: [602, 51, 1019, 330], range: [0.32, 7.06], dec: 0, minor: 0.2,
   wellAt: [605, 23], siteAt: [746, 90], yTitleAt: [548, 188], xTitleAt: [789, 386], legAt: [826, 264, 853]},
  {well: well3, site: site3, ticks: ticks3, sim: sim3, obs: obs3, box: [87, 442, 505, 726], range: [-3.0, 1.74], dec: 1, minor: 0.1,
   wellAt: [87, 417], siteAt: [404, 475], yTitleAt: [22, 580], xTitleAt: [279, 782], legAt: [119, 527, 146]},
  {well: well4, site: site4, ticks: ticks4, sim: sim4, obs: obs4, box: [602, 445, 1017, 728], range: [-1.62, 6.56], dec: 0, minor: 0.2,
   wellAt: [611, 422], siteAt: [746, 489], yTitleAt: [545, 588], xTitleAt: [789, 786], legAt: [850, 656, 877]},
  {well: well5, site: site5, ticks: ticks5, sim: sim5, obs: obs5, box: [89, 848, 500, 1128], range: [7.03, 14.0], dec: 0, minor: 0.2,
   wellAt: [106, 825], siteAt: [221, 889], yTitleAt: [37, 990], xTitleAt: [276, 1185], legAt: [330, 1062, 356]},
  {well: well6, site: site6, ticks: ticks6, sim: sim6, obs: obs6, box: [599, 844, 1014, 1127], range: [-3.76, 1.81], dec: 1, minor: 0.1,
   wellAt: [613, 823], siteAt: [739, 890], yTitleAt: [539, 988], xTitleAt: [789, 1185], legAt: [842, 1062, 868]},
  {well: well7, site: site7, ticks: ticks7, sim: sim7, obs: obs7, box: [89, 1258, 503, 1542], range: [7.5, 13.52], dec: 1, minor: 0.1,
   wellAt: [104, 1235], siteAt: [221, 1300], yTitleAt: [21, 1398], xTitleAt: [283, 1597], legAt: [324, 1470, 351]},
  {well: well8, site: site8, ticks: ticks8, sim: sim8, obs: obs8, box: [598, 1256, 1001, 1542], range: [5.65, 11.53], dec: 1, minor: 0.1,
   wellAt: [613, 1233], siteAt: [736, 1282], yTitleAt: [531, 1397], xTitleAt: [789, 1600], legAt: [833, 1477, 860]}
];

// closed frame, ruler ticks inside the level axis and yearly ticks inside the time axis
const frameTicks = {
  id: 'frameTicks',
  afterDatasetsDraw(chart, args, opts) {
    const { ctx, chartArea: a, scales: { x, y } } = chart;
    ctx.save();
    ctx.strokeStyle = '#000';
    ctx.lineWidth = 1.4;
    ctx.strokeRect(a.left, a.top, a.right - a.left, a.bottom - a.top);
    ctx.lineWidth = 1;
    ctx.beginPath();
    const first = Math.ceil(y.min / opts.minor - 1e-6);
    const last = Math.floor(y.max / opts.minor + 1e-6);
    for (let k = first; k <= last; k++) {
      const py = Math.round(y.getPixelForValue(k * opts.minor)) + 0.5;
      ctx.moveTo(a.left, py);
      ctx.lineTo(a.left + 6, py);
    }
    for (let yr = 1981; yr < 2000; yr++) {
      const px = Math.round(x.getPixelForValue(yr)) + 0.5;
      ctx.moveTo(px, a.bottom);
      ctx.lineTo(px, a.bottom - 5);
    }
    ctx.stroke();
    ctx.restore();
  }
};

const page = document.getElementById('page');

function addDiv(cls, text, x, y) {
  const el = document.createElement('div');
  el.className = cls;
  if (text !== null) el.textContent = text;
  el.style.left = x + 'px';
  el.style.top = y + 'px';
  page.appendChild(el);
  return el;
}

const toXY = pts => pts.map(p => ({ x: p[0], y: p[1] }));

// room around the plot box inside each canvas
const pad = { left: 60, top: 12, right: 32, bottom: 50 };

// keep the plot box where it is: no extra room for overhanging edge labels
const noEdgePadding = s => { s.paddingLeft = 0; s.paddingRight = 0; s.paddingTop = 0; s.paddingBottom = 0; };

panels.forEach(p => {
  const [L, T, R, B] = p.box;
  const cv = document.createElement('canvas');
  cv.width = R - L + pad.left + pad.right;
  cv.height = B - T + pad.top + pad.bottom;
  cv.style.left = (L - pad.left) + 'px';
  cv.style.top = (T - pad.top) + 'px';
  page.appendChild(cv);

  new Chart(cv, {
    type: 'line',
    data: {
      datasets: [
        {
          label: 'Observed',
          data: toXY(p.obs),
          borderColor: '#111',
          borderWidth: 1,
          pointStyle: 'triangle',
          pointRadius: 2.8,
          pointBackgroundColor: '#000',
          pointBorderWidth: 0,
          spanGaps: false,
          tension: 0
        },
        {
          label: 'Simulated',
          data: toXY(p.sim),
          borderColor: '#000',
          borderWidth: 6,
          pointRadius: 0,
          tension: 0.4,
          cubicInterpolationMode: 'monotone',
          borderCapStyle: 'round',
          borderJoinStyle: 'round'
        }
      ]
    },
    options: {
      responsive: false,
      animation: false,
      devicePixelRatio: 1,
      events: [],
      layout: { padding: { left: 0, top: pad.top, right: pad.right, bottom: 0 } },
      plugins: {
        legend: { display: false },
        tooltip: { enabled: false },
        frameTicks: { minor: p.minor }
      },
      scales: {
        x: {
          type: 'linear',
          min: 1980,
          max: 2000,
          afterBuildTicks: s => { s.ticks = yearTicks.map(v => ({ value: v })); },
          afterFit: s => { s.height = pad.bottom; noEdgePadding(s); },
          grid: { drawOnChartArea: false, tickLength: 6, color: '#000', lineWidth: 1.3 },
          border: { display: false },
          ticks: {
            autoSkip: false,
            maxRotation: 0,
            padding: 13,
            color: '#222',
            font: c => ({ family: 'Liberation Sans', size: 20, weight: c.index === 0 ? 'bold' : 'normal' }),
            callback: v => String(v)
          }
        },
        y: {
          type: 'linear',
          min: p.range[0],
          max: p.range[1],
          afterBuildTicks: s => { s.ticks = p.ticks.map(v => ({ value: v })); },
          afterFit: s => { s.width = pad.left; noEdgePadding(s); },
          grid: { drawOnChartArea: false, tickLength: 6, color: '#000', lineWidth: 1.3 },
          border: { display: false },
          ticks: {
            autoSkip: false,
            padding: 4,
            color: '#222',
            font: { family: 'Liberation Sans', size: 15 },
            callback: v => Number(v).toFixed(p.dec)
          }
        }
      }
    },
    plugins: [frameTicks]
  });

  // labels around and inside the plot
  addDiv('well', p.well, p.wellAt[0], p.wellAt[1]);
  addDiv('ytitle', 'Ground-water level (m)', p.yTitleAt[0], p.yTitleAt[1]);
  addDiv('xtitle', 'Time (year)', p.xTitleAt[0], p.xTitleAt[1]);
  addDiv('site', p.site, p.siteAt[0], p.siteAt[1]).dir = 'rtl';

  const [mx, my, tx] = p.legAt;
  addDiv('dot', null, mx, my);
  addDiv('leg', '- Simulated', tx, my);
  addDiv('tri', null, mx, my + 25);
  addDiv('leg', '- Observed', tx, my + 31);
});
</script>
</body>
</html>
